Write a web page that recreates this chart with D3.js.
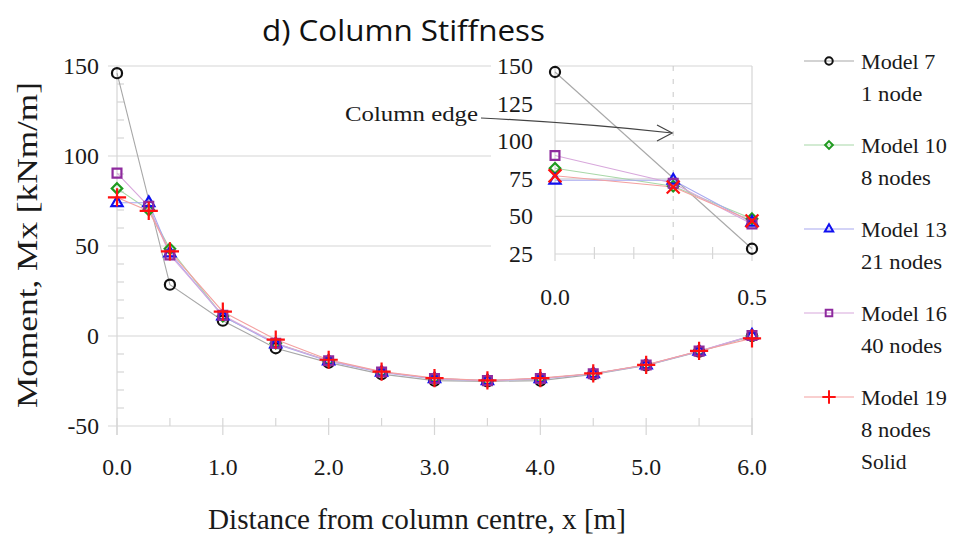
<!DOCTYPE html>
<html><head><meta charset="utf-8">
<script src="https://cdn.jsdelivr.net/npm/d3@7"></script>
<style>body{margin:0;background:#fff}svg{display:block}</style>
</head><body>
<svg id="c" width="957" height="542"></svg>
<script>
const xValues = [0, 0.3, 0.5, 1.0, 1.5, 2.0, 2.5, 3.0, 3.5, 4.0, 4.5, 5.0, 5.5, 6.0];
const model7  = [146, null, 28.5, 8.5, -6.8, -14.8, -21.2, -24.8, -25.2, -24.8, -21.3, -16.3, -8.7, 0];
const model10 = [82, 70, 48.5, 11, -4, -13.7, -20, -23.6, -24.8, -23.6, -21, -16.1, -8.5, 0];
const model13 = [74, 74, 46, 11, -4.5, -14, -20.2, -23.8, -24.9, -23.8, -21, -16.2, -8.5, 0.3];
const model16 = [90.5, 72, 45, 11.5, -4, -13.7, -20, -23.6, -24.8, -23.6, -21, -16.1, -8.4, 0.3];
const model19 = [77, 69.5, 47, 13.5, -2, -13.2, -19.8, -23.4, -24.7, -23.4, -20.8, -16, -8.3, -1.3];
const seriesNames = [["Model 7","1 node"],["Model 10","8 nodes"],["Model 13","21 nodes"],["Model 16","40 nodes"],["Model 19","8 nodes","Solid"]];
const mainXTicks = [0,1,2,3,4,5,6];
const mainYTicks = [-50,0,50,100,150];
const insetXTicks = [0,0.5];
const insetYTicks = [25,50,75,100,125,150];
const columnEdgeX = 0.3;

const markerColors = ["#111111","#1f9a1f","#1010f0","#8e2a9e","#ff1010"];
const lineColors = ["#a8a8a8","#a8d8a8","#a8a8f0","#d8a8dc","#f4a0a0"];
const symbols = [d3.symbolCircle, d3.symbolDiamond2, d3.symbolTriangle2, d3.symbolSquare2, d3.symbolPlus];
const symSizes = [80, 70, 90, 100, 110];
const seriesData = [model7, model10, model13, model16, model19];

const SERIF = "'Liberation Serif', serif";
const adv = {"M":0.86,"o":0.52,"d":0.53,"e":0.44,"l":0.26,"n":0.53,"s":0.38,"S":0.5,"i":0.26," ":0.25,".":0.25,"-":0.33,
  "0":0.52,"1":0.52,"2":0.52,"3":0.52,"4":0.52,"5":0.52,"6":0.52,"7":0.52,"8":0.52,"9":0.52};
const textW = (t, fs) => fs * Array.from(String(t)).reduce((a,c)=>a+(adv[c]||0.5),0);

const svg = d3.select("#c");
const grid = "#d6d6d6";

// all texts go straight into the svg root, with an inline serif font
function label(str, xp, yp, fs, anchor, fixedLen) {
  const t = svg.append("text").attr("x",xp).attr("y",yp).attr("text-anchor",anchor||"start")
    .attr("font-size",fs).attr("fill","#1a1a1a").text(str);
  t.style("font-family", SERIF, "important");
  t.attr("textLength", fixedLen || textW(str, fs)).attr("lengthAdjust","spacingAndGlyphs");
  return t;
}

const x = d3.scaleLinear().domain([0,6]).range([117,752]);
const y = d3.scaleLinear().domain([-50,150]).range([426,66]);
const g = svg.append("g");

g.selectAll(".hg").data(mainYTicks.filter(v=>v>-50)).join("line")
  .attr("x1",108).attr("x2",x(6)).attr("y1",d=>y(d)).attr("y2",d=>y(d))
  .attr("stroke",grid).attr("stroke-width",1.2);
g.selectAll(".my").data(d3.range(-40,150,10).filter(v=>v%50!==0)).join("line")
  .attr("x1",x(0)).attr("x2",x(0)+7).attr("y1",d=>y(d)).attr("y2",d=>y(d))
  .attr("stroke",grid).attr("stroke-width",1.2);
g.append("line").attr("x1",x(0)).attr("x2",x(0)).attr("y1",y(150)).attr("y2",y(-50)+9).attr("stroke",grid).attr("stroke-width",1.2);
g.append("line").attr("x1",x(6)).attr("x2",x(6)).attr("y1",y(150)).attr("y2",y(-50)+9).attr("stroke",grid).attr("stroke-width",1.2);
g.append("line").attr("x1",108).attr("x2",x(6)).attr("y1",y(-50)).attr("y2",y(-50)).attr("stroke",grid).attr("stroke-width",1.2);
g.selectAll(".mx").data(mainXTicks).join("line")
  .attr("x1",d=>x(d)).attr("x2",d=>x(d)).attr("y1",y(-50)-8).attr("y2",y(-50)+9)
  .attr("stroke",grid).attr("stroke-width",1.2);
g.selectAll(".mnx").data(d3.range(0.5,6,1)).join("line")
  .attr("x1",d=>x(d)).attr("x2",d=>x(d)).attr("y1",y(-50)-8).attr("y2",y(-50))
  .attr("stroke",grid).attr("stroke-width",1.2);

function drawSeries(gr, xf, yf, insetMode) {
  const inDom = p => xf.domain()[0] <= p[0] && p[0] <= xf.domain()[1] && p[1] != null;
  seriesData.forEach((vals, i) => {
    const pts = xValues.map((xv, k) => [xv, vals[k]]).filter(inDom);
    gr.append("path").datum(pts)
      .attr("d", d3.line().x(p=>xf(p[0])).y(p=>yf(p[1])))
      .attr("fill","none").attr("stroke",lineColors[i]).attr("stroke-width",1.1);
  });
  seriesData.forEach((vals, i) => {
    const pts = xValues.map((xv, k) => [xv, vals[k]]).filter(inDom);
    const sym = (insetMode && i===4) ? d3.symbolTimes : symbols[i];
    gr.selectAll(null).data(pts).join("path")
      .attr("transform", p=>`translate(${xf(p[0])},${yf(p[1])})`)
      .attr("d", d3.symbol().type(sym).size(symSizes[i]))
      .attr("fill","none").attr("stroke",markerColors[i]).attr("stroke-width",2.2);
  });
}
drawSeries(g.append("g"), x, y, false);

// main tick labels
mainYTicks.forEach(v => label(String(v), 99, y(v)+8, 23, "end"));
mainXTicks.forEach(v => label(d3.format(".1f")(v), x(v), 475, 23, "middle"));

// axis titles
label("Distance from column centre, x [m]", 417, 529, 29, "middle", 418);
label("Moment, Mx [kNm/m]", 0, 0, 30, "middle", 326).attr("transform","translate(37,245) rotate(-90)");

// title
svg.append("text").attr("x",262).attr("y",41)
  .attr("font-size",29).attr("fill","#111")
  .attr("textLength",283).attr("lengthAdjust","spacingAndGlyphs")
  .style("font-family","'Open Sans', sans-serif","important")
  .text("d)  Column Stiffness");

// ---- inset ----
const ix = d3.scaleLinear().domain([0,0.5]).range([555,752]);
const iy = d3.scaleLinear().domain([25,150]).range([254,66]);
const ig = svg.append("g");
ig.append("rect").attr("x",491).attr("y",50).attr("width",285).attr("height",270).attr("fill","#fff");
ig.selectAll(".ihg").data(insetYTicks).join("line")
  .attr("x1",ix(0)).attr("x2",ix(0.5)).attr("y1",d=>iy(d)).attr("y2",d=>iy(d))
  .attr("stroke",grid).attr("stroke-width",1.2);
ig.selectAll(".ivx").data(insetXTicks).join("line")
  .attr("x1",d=>ix(d)).attr("x2",d=>ix(d)).attr("y1",iy(150)).attr("y2",iy(25)+7)
  .attr("stroke",grid).attr("stroke-width",1.2);
ig.selectAll(".imx").data([0.1,0.2,0.3,0.4]).join("line")
  .attr("x1",d=>ix(d)).attr("x2",d=>ix(d)).attr("y1",iy(25)-7).attr("y2",iy(25)+5)
  .attr("stroke",grid).attr("stroke-width",1.2);
ig.append("line").attr("x1",ix(columnEdgeX)).attr("x2",ix(columnEdgeX)).attr("y1",iy(150)).attr("y2",iy(25))
  .attr("stroke","#c8c8c8").attr("stroke-width",1).attr("stroke-dasharray","5,8");
drawSeries(ig.append("g"), ix, iy, true);
insetYTicks.forEach(v => label(String(v), 533, iy(v)+8, 23, "end"));
insetXTicks.forEach(v => label(d3.format(".1f")(v), ix(v), 305, 23, "middle"));

// annotation
label("Column edge", 345, 121, 22, "start", 133);
svg.append("path").attr("d",`M481,118 Q580,123 ${ix(columnEdgeX)-1},133`)
  .attr("fill","none").attr("stroke","#444").attr("stroke-width",1.2);
svg.append("path").attr("d",`M657,125 L${ix(columnEdgeX)-1},133 L657,141`)
  .attr("fill","none").attr("stroke","#444").attr("stroke-width",1.2);

// ---- legend ----
const lg = svg.append("g");
const legY = [61, 145, 229, 313, 397];
seriesNames.forEach((names, i) => {
  lg.append("line").attr("x1",804).attr("x2",854).attr("y1",legY[i]).attr("y2",legY[i])
    .attr("stroke",lineColors[i]).attr("stroke-width",1.1);
  lg.append("path").attr("transform",`translate(829,${legY[i]})`)
    .attr("d",d3.symbol().type(symbols[i]).size(symSizes[i]*0.55))
    .attr("fill","none").attr("stroke",markerColors[i]).attr("stroke-width",2);
  names.forEach((t, j) => label(t, 861, legY[i]+8+j*32, 22, "start"));
});
</script>
</body></html>
